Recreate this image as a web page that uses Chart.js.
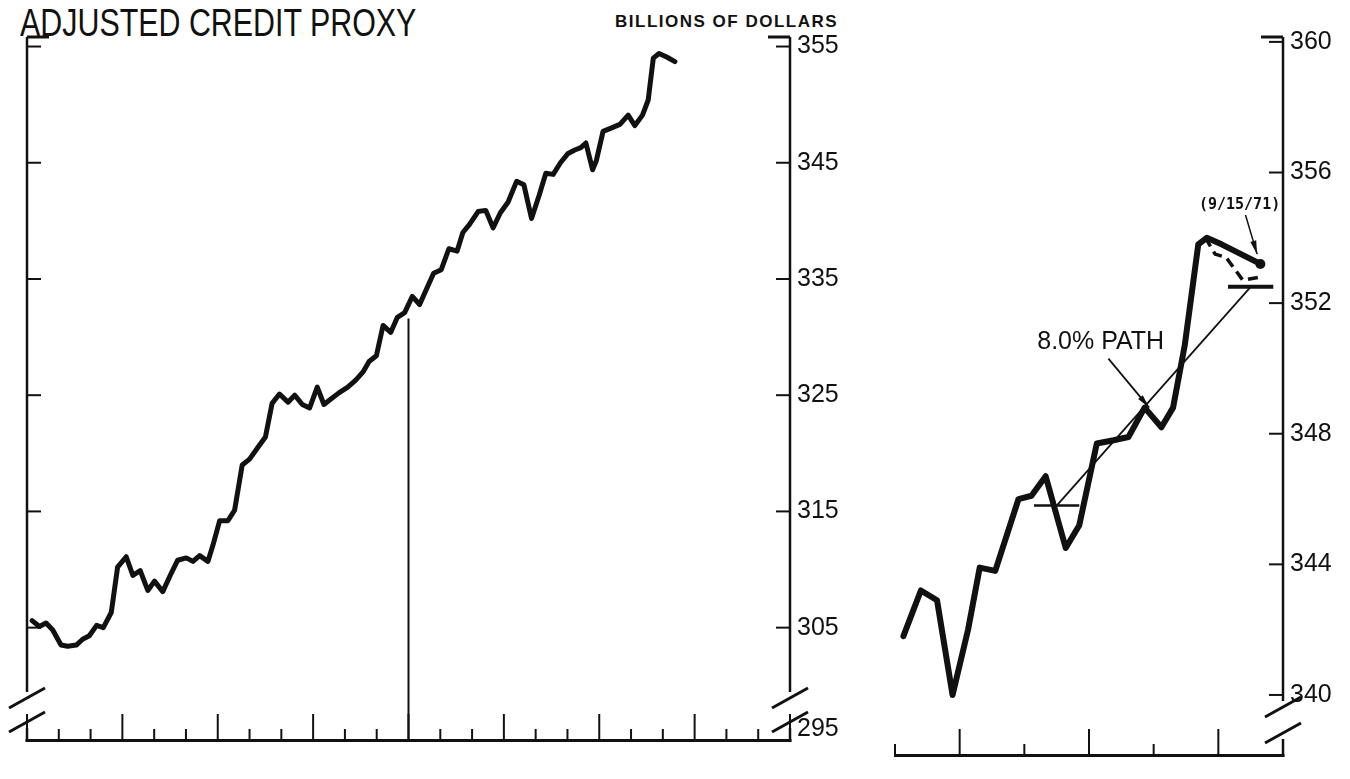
<!DOCTYPE html>
<html>
<head>
<meta charset="utf-8">
<script src="https://cdn.jsdelivr.net/npm/chart.js@4.4.1/dist/chart.umd.min.js"></script>
<style>
  html, body { margin: 0; padding: 0; background: #fff; }
  body { width: 1350px; height: 779px; position: relative; overflow: hidden; font-family: "Liberation Sans", Arial, sans-serif; color: #111; }
  .wrap { position: absolute; top: 0; height: 779px; }
  #leftWrap { left: 0; width: 870px; }
  #rightWrap { left: 870px; width: 480px; }
  .title { position: absolute; left: 20px; top: 2px; font-size: 38px; white-space: nowrap; transform: scaleX(0.8); transform-origin: left top; }
  .units { position: absolute; left: 615px; top: 12px; font-size: 17px; font-weight: bold; letter-spacing: 1.5px; white-space: nowrap; }
</style>
</head>
<body>
<div class="title">ADJUSTED CREDIT PROXY</div>
<div class="units">BILLIONS OF DOLLARS</div>
<div class="wrap" id="leftWrap"><canvas id="leftChart" width="870" height="779"></canvas></div>
<div class="wrap" id="rightWrap"><canvas id="rightChart" width="480" height="779"></canvas></div>
<script>
// months counted from the start of the left panel
const leftMonths = [0.16, 0.39, 0.60, 0.81, 1.07, 1.28, 1.55, 1.75, 1.96, 2.19,
  2.40, 2.65, 2.85, 3.12, 3.33, 3.56, 3.80, 4.01, 4.27, 4.54,
  4.74, 5.01, 5.22, 5.43, 5.69, 5.85, 6.06, 6.32, 6.53, 6.77,
  7.00, 7.26, 7.50, 7.71, 7.94, 8.21, 8.42, 8.66, 8.89, 9.13,
  9.34, 9.57, 9.81, 10.09, 10.34, 10.57, 10.76, 10.99, 11.20, 11.44,
  11.65, 11.88, 12.12, 12.35, 12.56, 12.79, 13.03, 13.27, 13.53, 13.71,
  13.92, 14.19, 14.43, 14.66, 14.89, 15.13, 15.40, 15.63, 15.87, 16.11,
  16.32, 16.55, 16.78, 17.02, 17.23, 17.42, 17.58, 17.79, 17.91, 18.12,
  18.39, 18.65, 18.91, 19.12, 19.36, 19.54, 19.70, 19.88, 20.12, 20.38];
const leftValues = [305.6, 305.1, 305.4, 304.8, 303.5, 303.4, 303.5, 304.0, 304.3, 305.2,
  305.0, 306.3, 310.2, 311.1, 309.5, 309.9, 308.2, 309.0, 308.1, 309.7,
  310.8, 311.0, 310.7, 311.2, 310.7, 312.1, 314.2, 314.2, 315.1, 319.0,
  319.5, 320.5, 321.4, 324.3, 325.1, 324.4, 325.0, 324.2, 323.9, 325.7,
  324.2, 324.7, 325.2, 325.7, 326.3, 327.0, 327.9, 328.4, 331.0, 330.4,
  331.7, 332.1, 333.5, 332.8, 334.1, 335.5, 335.8, 337.6, 337.4, 339.0,
  339.7, 340.8, 340.9, 339.4, 340.7, 341.6, 343.4, 343.1, 340.2, 342.2,
  344.1, 344.0, 345.0, 345.8, 346.1, 346.3, 346.7, 344.4, 345.2, 347.7,
  348.0, 348.3, 349.1, 348.2, 349.1, 350.4, 354.0, 354.4, 354.1, 353.7];
const leftTicks = [295, 305, 315, 325, 335, 345, 355];
const leftTickMonths = Array.from({ length: 25 }, (_, i) => i);
const markerMonth = 12;
const markerTop = 331.6;

// right panel: recent weeks on a larger scale
const rightMonths = [15.13, 15.40, 15.65, 15.89, 16.13, 16.31, 16.55, 16.91, 17.11, 17.33,
  17.64, 17.85, 18.12, 18.38, 18.61, 18.86, 19.12, 19.30, 19.48, 19.69, 19.82, 20.05, 20.65];
const rightValues = [341.8, 343.2, 342.9, 340.0, 342.0, 343.9, 343.8, 346.0, 346.1, 346.7,
  344.5, 345.2, 347.7, 347.8, 347.9, 348.8, 348.2, 348.8, 350.7, 353.8, 354.0, 353.8, 353.2];
const revisedMonths = [19.80, 19.95, 20.12, 20.38, 20.65];
const revisedValues = [354.0, 353.5, 353.4, 352.7, 352.8];
const pathMonths = [17.5, 20.5];
const pathValues = [345.8, 352.5];
const juneBaseMonths = [17.15, 17.85];
const juneBaseValues = [345.8, 345.8];
const septBaseMonths = [20.15, 20.85];
const septBaseValues = [352.5, 352.5];
const rightTicks = [340, 344, 348, 352, 356, 360];
const rightTickMonths = [15, 16, 17, 18, 19, 20, 21];

const INK = '#111';
const tickFont = { family: "'Liberation Sans', Arial, sans-serif", size: 25 };

function toPoints(xs, ys) {
  return xs.map((x, i) => ({ x: x, y: ys[i] }));
}

function seg(ctx, x1, y1, x2, y2) {
  ctx.beginPath();
  ctx.moveTo(x1, y1);
  ctx.lineTo(x2, y2);
  ctx.stroke();
}

// axes drawn by hand: ticks point inward, axes broken near the bottom
const framePlugin = {
  id: 'frame',
  afterDraw(chart, args, opts) {
    const { ctx, chartArea: a, scales: { x, y } } = chart;
    ctx.save();
    ctx.strokeStyle = INK;
    ctx.lineCap = 'butt';

    // bottom axis with month ticks
    ctx.lineWidth = 3;
    seg(ctx, a.left - (opts.leftAxis ? 1.5 : 0), a.bottom - 1.5, a.right + 1.5, a.bottom - 1.5);
    ctx.lineWidth = 2;
    for (const m of opts.months) {
      const px = x.getPixelForValue(m);
      const len = opts.tall(m) ? 28 : 13;
      seg(ctx, px, a.bottom, px, a.bottom - len);
    }

    const breakA = a.bottom - opts.breaks[0];
    const breakB = a.bottom - opts.breaks[1];
    const sides = opts.leftAxis ? [a.left, a.right] : [a.right];
    for (const sx of sides) {
      ctx.lineWidth = 2.5;
      seg(ctx, sx, a.top, sx, breakA - 6);
      seg(ctx, sx, breakB + 6, sx, a.bottom);
      // break slashes
      ctx.lineWidth = 3;
      seg(ctx, sx - 18, breakA + 10, sx + 18, breakA - 10);
      seg(ctx, sx - 18, breakB + 10, sx + 18, breakB - 10);
      // value ticks pointing into the panel
      ctx.lineWidth = 2;
      const dir = sx === a.left ? 1 : -1;
      for (const v of opts.yTicks) {
        const py = y.getPixelForValue(v);
        if (py < a.top + 4 || py > breakA - 10) continue;
        seg(ctx, sx, py, sx + dir * 14, py);
      }
      // short stub at the top corner
      ctx.lineWidth = 3;
      seg(ctx, sx, a.top, sx + dir * 22, a.top);
    }
    ctx.restore();
  }
};

// labels and arrows of the right panel
function arrow(ctx, x1, y1, x2, y2) {
  seg(ctx, x1, y1, x2, y2);
  const ang = Math.atan2(y2 - y1, x2 - x1);
  ctx.beginPath();
  ctx.moveTo(x2, y2);
  ctx.lineTo(x2 - 14 * Math.cos(ang - 0.22), y2 - 14 * Math.sin(ang - 0.22));
  ctx.lineTo(x2 - 14 * Math.cos(ang + 0.22), y2 - 14 * Math.sin(ang + 0.22));
  ctx.closePath();
  ctx.fill();
}

const notesPlugin = {
  id: 'notes',
  afterDatasetsDraw(chart) {
    const { ctx, scales: { x, y } } = chart;
    ctx.save();
    ctx.fillStyle = INK;
    ctx.strokeStyle = INK;
    ctx.lineWidth = 1.8;

    ctx.font = "25px 'Liberation Sans', Arial, sans-serif";
    ctx.textBaseline = 'middle';
    ctx.fillText('8.0% PATH', x.getPixelForValue(17.2), y.getPixelForValue(350.8));
    arrow(ctx, x.getPixelForValue(18.3), y.getPixelForValue(350.3),
      x.getPixelForValue(18.93), y.getPixelForValue(348.8));

    ctx.font = "bold 15px 'DejaVu Sans Mono', monospace";
    ctx.fillText('(9/15/71)', x.getPixelForValue(19.7), y.getPixelForValue(355.0));
    ctx.lineWidth = 1.5;
    arrow(ctx, x.getPixelForValue(20.42), y.getPixelForValue(354.7),
      x.getPixelForValue(20.6), y.getPixelForValue(353.5));
    ctx.restore();
  }
};

function yAxis(min, max, ticks, width, bottomLabel) {
  return {
    type: 'linear',
    position: 'right',
    min: min,
    max: max,
    grid: { display: false, drawTicks: false },
    border: { display: false },
    afterFit(scale) { scale.width = width; },
    afterBuildTicks(scale) { scale.ticks = ticks.map(v => ({ value: v })); },
    ticks: {
      padding: 7,
      color: INK,
      font: tickFont,
      callback: v => (v === bottomLabel ? [String(v), ''] : String(v))
    }
  };
}

const common = {
  responsive: false,
  animation: false,
  devicePixelRatio: 1,
  plugins: { legend: { display: false }, tooltip: { enabled: false } },
  elements: { point: { radius: 0 }, line: { tension: 0, borderJoinStyle: 'round', borderCapStyle: 'round' } }
};

new Chart(document.getElementById('leftChart'), {
  type: 'line',
  data: {
    datasets: [
      { data: toPoints(leftMonths, leftValues), borderColor: INK, borderWidth: 5 },
      { data: toPoints([markerMonth, markerMonth], [295, markerTop]), borderColor: INK, borderWidth: 2, borderCapStyle: 'butt' }
    ]
  },
  options: Object.assign({}, common, {
    layout: { padding: { left: 27, top: 37, bottom: 2, right: 0 } },
    scales: {
      x: { type: 'linear', min: 0, max: 24, display: false },
      y: yAxis(295.16, 355.82, leftTicks, 80, 295)
    },
    plugins: Object.assign({}, common.plugins, {
      frame: { leftAxis: true, months: leftTickMonths, tall: m => m % 3 === 0, yTicks: leftTicks, breaks: [44, 20] }
    })
  }),
  plugins: [framePlugin]
});

new Chart(document.getElementById('rightChart'), {
  type: 'line',
  data: {
    datasets: [
      { data: toPoints(rightMonths, rightValues), borderColor: INK, borderWidth: 6 },
      { data: toPoints(revisedMonths, revisedValues), borderColor: INK, borderWidth: 3.5, borderDash: [10, 6], borderCapStyle: 'butt' },
      { data: toPoints(pathMonths, pathValues), borderColor: INK, borderWidth: 1.8 },
      { data: toPoints(juneBaseMonths, juneBaseValues), borderColor: INK, borderWidth: 2.5, borderCapStyle: 'butt' },
      { data: toPoints(septBaseMonths, septBaseValues), borderColor: INK, borderWidth: 4, borderCapStyle: 'butt' },
      { data: toPoints(rightMonths.slice(-1), rightValues.slice(-1)), showLine: false, pointRadius: 5, pointBackgroundColor: INK, pointBorderWidth: 0 }
    ]
  },
  options: Object.assign({}, common, {
    layout: { padding: { left: 25, top: 37, bottom: 2, right: 0 } },
    scales: {
      x: { type: 'linear', min: 15, max: 21, display: false },
      y: yAxis(338.1, 360.15, rightTicks, 67, null)
    },
    plugins: Object.assign({}, common.plugins, {
      frame: { leftAxis: false, months: rightTickMonths, tall: m => m % 2 === 0, yTicks: rightTicks, breaks: [50, 24] }
    })
  }),
  plugins: [framePlugin, notesPlugin]
});
</script>
</body>
</html>
